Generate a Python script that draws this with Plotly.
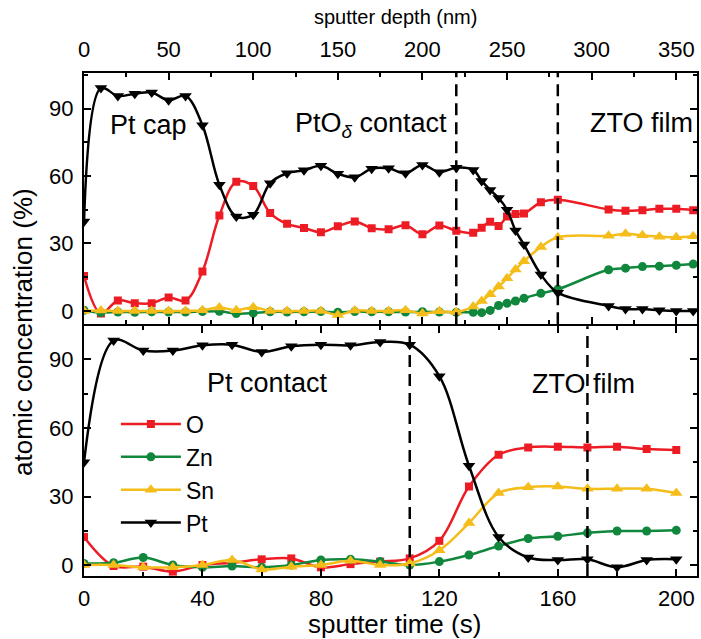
import plotly.graph_objects as go

# ---------------- data ----------------
# Upper panel: Pt-capped PtO_delta contact, plotted against sputter depth (nm)
top_depth = [0, 10, 20, 30, 40, 50, 60, 70, 80, 90, 100, 110, 120, 130, 140, 150,
             160, 170, 180, 190, 200, 210, 220, 230, 235, 240, 245, 250, 255, 260,
             270, 280, 310, 320, 330, 340, 350, 360]
top_O = [15.5, -1.2, 4.6, 3.4, 3.4, 6.0, 4.6, 17.5, 42.4, 57.4, 55.5, 43.5, 38.7,
         36.9, 35.0, 37.6, 39.8, 36.8, 36.3, 38.1, 34.1, 38.0, 35.6, 34.7, 37.0,
         39.6, 37.8, 42.0, 43.1, 43.3, 48.3, 49.4, 45.1, 44.5, 44.8, 45.4, 45.4, 44.8]
top_Zn = [0.3, -0.8, -0.5, -0.6, -0.4, -0.5, -0.5, -0.3, -0.2, -1.2, -1.0, -0.4,
          -0.5, -0.4, -0.3, -0.6, -0.3, -0.4, -0.4, -0.5, -0.4, -0.5, -0.6, -0.6,
          -0.8, 0.2, 2.4, 3.4, 4.4, 5.6, 7.8, 9.6, 18.3, 19.0, 19.7, 19.9, 20.3, 20.8]
top_Sn = [0.0, 0.2, 0.0, 0.0, 0.0, 0.0, 0.0, 0.3, 1.5, 0.3, 1.6, 0.0, 0.0, 0.0,
          0.0, -1.8, 0.2, 0.0, 0.0, 0.3, -1.2, -0.2, -0.5, 1.9, 4.4, 7.4, 10.8,
          14.5, 18.4, 22.1, 28.4, 32.8, 33.4, 34.3, 33.6, 33.0, 32.7, 33.2]
top_Pt = [39.8, 99.1, 95.6, 96.6, 97.1, 93.7, 95.6, 82.6, 56.1, 42.0, 42.8, 56.8,
          61.2, 62.5, 64.5, 61.0, 59.4, 63.2, 63.4, 61.2, 64.9, 61.7, 63.7, 62.7,
          57.8, 53.8, 50.2, 45.0, 35.7, 29.5, 16.2, 8.1, 2.2, 0.8, 0.8, 0.3, 0.0, 0.0]

# Lower panel: Pt contact, plotted against sputter time (s)
bot_time = [0, 10, 20, 30, 40, 50, 60, 70, 80, 90, 100, 110, 120, 130, 140, 150,
            160, 170, 180, 190, 200]
bot_O = [12.3, -0.4, -0.7, -2.9, 0.0, 1.0, 2.5, 2.9, -1.0, 0.4, 1.5, 2.9, 10.6,
         34.4, 48.3, 51.5, 51.8, 51.5, 51.8, 50.8, 50.4]
bot_Zn = [0.7, 1.0, 3.3, 0.0, -1.0, -0.4, -1.0, 0.0, 2.2, 2.5, 1.5, 0.0, 1.5, 4.4,
          8.3, 11.6, 12.6, 14.1, 14.9, 14.9, 15.2]
bot_Sn = [0.0, 0.0, -1.0, -1.0, 0.0, 2.2, -1.9, -0.7, 0.0, 1.9, 0.0, 0.7, 6.5, 18.4,
          31.5, 34.1, 34.4, 33.4, 33.4, 33.4, 31.5]
bot_Pt = [45.0, 98.3, 93.9, 93.9, 96.2, 96.5, 93.3, 95.8, 96.5, 96.2, 97.7, 96.5,
          82.7, 43.5, 12.3, 3.3, 2.2, 2.5, -1.0, 2.2, 2.5]

# interface markers
top_interfaces_nm = [220, 280]
bot_interfaces_s = [110, 170]

# tick labels
y_ticks = [0, 30, 60, 90]
time_ticks = [0, 40, 80, 120, 160, 200]
depth_ticks = [0, 50, 100, 150, 200, 250, 300, 350]

# ---------------- styling ----------------
FONT = "Liberation Sans, Arial, sans-serif"
C_O, C_ZN, C_SN, C_PT = "#ED1C24", "#10873D", "#F4BD1A", "#000000"
series = [
    ("O", C_O, "square", 8),
    ("Zn", C_ZN, "circle", 9),
    ("Sn", C_SN, "triangle-up", 11),
    ("Pt", C_PT, "triangle-down", 11),
]
top_vals = {"O": top_O, "Zn": top_Zn, "Sn": top_Sn, "Pt": top_Pt}
bot_vals = {"O": bot_O, "Zn": bot_Zn, "Sn": bot_Sn, "Pt": bot_Pt}

fig = go.Figure()

for name, col, sym, size in series:
    fig.add_trace(go.Scatter(
        x=top_depth, y=top_vals[name], xaxis="x2", yaxis="y2",
        mode="lines+markers", name=name, showlegend=False,
        line=dict(color=col, width=2.5, shape="spline", smoothing=1.0),
        marker=dict(symbol=sym, size=size, color=col, line=dict(width=0)),
    ))

for name, col, sym, size in series:
    fig.add_trace(go.Scatter(
        x=bot_time, y=bot_vals[name], xaxis="x", yaxis="y",
        mode="lines+markers", name=name, showlegend=True,
        line=dict(color=col, width=2.5, shape="spline", smoothing=1.0),
        marker=dict(symbol=sym, size=size, color=col, line=dict(width=0)),
    ))

PLOT_H = 503.3
# the two panels share one border line: shift the domains by a pixel each way
bot_top = (576 - 326) / PLOT_H
top_bot = (576 - 324) / PLOT_H
T_MAX = 207.0
NM_PER_S = 1.75

axis_common = dict(
    showline=True, linecolor="black", linewidth=2, ticks="inside",
    tickcolor="black", tickwidth=2, ticklen=7, mirror="ticks",
    showgrid=False, zeroline=False,
    tickfont=dict(family=FONT, size=22, color="black"),
)

fig.update_layout(
    width=701, height=639,
    margin=dict(l=83.5, r=2, t=72.7, b=63),
    paper_bgcolor="white", plot_bgcolor="white",
    font=dict(family=FONT, color="black"),
    xaxis=dict(axis_common, anchor="y", domain=[0, 1], range=[0, T_MAX],
               tickvals=time_ticks, ticklabelstandoff=2,
               minor=dict(dtick=20, ticklen=4, tickwidth=2, ticks="inside",
                          tickcolor="black")),
    xaxis2=dict(axis_common, anchor="y2", side="top", domain=[0, 1],
                range=[0, T_MAX * NM_PER_S], tickvals=depth_ticks,
                ticklabelstandoff=5,
                minor=dict(dtick=25, ticklen=4, tickwidth=2, ticks="inside",
                           tickcolor="black")),
    yaxis=dict(axis_common, domain=[0, bot_top], range=[-4.8, 104.6],
               tickvals=y_ticks, anchor="x", ticklabelstandoff=4,
               minor=dict(dtick=15, ticklen=4, tickwidth=2, ticks="inside",
                          tickcolor="black")),
    yaxis2=dict(axis_common, domain=[top_bot, 1], range=[-5.9, 105.8],
                tickvals=y_ticks, anchor="x2", ticklabelstandoff=4,
                minor=dict(dtick=15, ticklen=4, tickwidth=2, ticks="inside",
                           tickcolor="black")),
    legend=dict(x=0.052, y=0.345, xanchor="left", yanchor="top",
                bgcolor="rgba(0,0,0,0)", borderwidth=0, tracegroupgap=0,
                itemwidth=60,
                font=dict(family=FONT, size=23, color="black")),
    showlegend=True,
)

# vertical dashed interface lines
for xv in top_interfaces_nm:
    fig.add_shape(type="line", xref="x2", yref="y2 domain", x0=xv, x1=xv,
                  y0=0, y1=1, line=dict(color="black", width=2.5, dash="12px,7px"))
for xv in bot_interfaces_s:
    fig.add_shape(type="line", xref="x", yref="y domain", x0=xv, x1=xv,
                  y0=0, y1=1, line=dict(color="black", width=2.5, dash="12px,7px"))

label_font = dict(family=FONT, size=27, color="black")
fig.add_annotation(x=38, y=82.6, xref="x2", yref="y2", text="Pt cap",
                   showarrow=False, font=label_font)
fig.add_annotation(x=123.4, y=82.6, xref="x2", yref="y2", xanchor="left",
                   text="PtO<sub><i>δ</i></sub> contact",
                   showarrow=False, font=label_font)
fig.add_annotation(x=329.4, y=83.5, xref="x2", yref="y2", text="ZTO film",
                   showarrow=False, font=label_font)
fig.add_annotation(x=61.9, y=79.8, xref="x", yref="y", text="Pt contact",
                   showarrow=False, font=label_font)
fig.add_annotation(x=168.7, y=79.2, xref="x", yref="y", text="ZTO film",
                   showarrow=False, font=label_font)

# axis titles
fig.add_annotation(x=-0.0999, y=0.4848, xref="paper", yref="paper",
                   text="atomic concentration (%)", textangle=-90,
                   showarrow=False, xanchor="center", yanchor="middle",
                   font=dict(family=FONT, size=26, color="black"))
fig.add_annotation(x=0.506, y=-0.0954, xref="paper", yref="paper",
                   text="sputter time (s)", showarrow=False,
                   xanchor="center", yanchor="middle",
                   font=dict(family=FONT, size=26, color="black"))
fig.add_annotation(x=0.508, y=1.1107, xref="paper", yref="paper",
                   text="sputter depth (nm)", showarrow=False,
                   xanchor="center", yanchor="middle",
                   font=dict(family=FONT, size=20, color="black"))

fig.write_html("out.html")
